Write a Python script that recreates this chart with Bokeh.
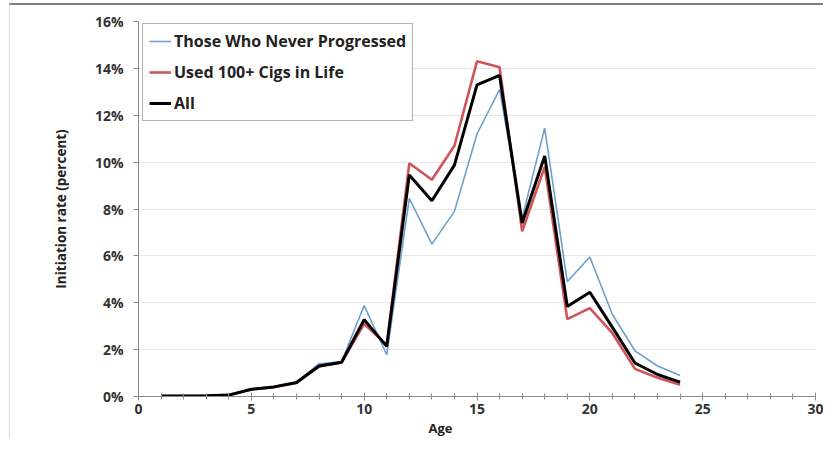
from bokeh.plotting import figure
from bokeh.models import Range1d, PrintfTickFormatter, Legend, LegendItem, Title, FixedTicker
from bokeh.embed import file_html
from bokeh.resources import INLINE

ages = list(range(1, 25))
never_progressed = [0.02, 0.02, 0.03, 0.06, 0.32, 0.43, 0.6, 1.4, 1.48, 3.88, 1.78, 8.45, 6.5, 7.9, 11.2, 13.1, 7.6, 11.45, 4.9, 5.95, 3.5, 1.95, 1.3, 0.9]
used_100 = [0.02, 0.02, 0.03, 0.06, 0.3, 0.4, 0.58, 1.28, 1.45, 3.1, 2.2, 9.95, 9.25, 10.7, 14.3, 14.05, 7.05, 9.8, 3.3, 3.77, 2.7, 1.18, 0.8, 0.5]
all_users = [0.02, 0.02, 0.03, 0.06, 0.31, 0.41, 0.6, 1.3, 1.46, 3.28, 2.14, 9.45, 8.35, 9.87, 13.3, 13.7, 7.4, 10.26, 3.84, 4.45, 2.95, 1.43, 0.94, 0.61]
series_names = ["Those Who Never Progressed", "Used 100+ Cigs in Life", "All"]
y_ticks = [0, 2, 4, 6, 8, 10, 12, 14, 16]
x_ticks = [0, 5, 10, 15, 20, 25, 30]

FONT = "Open Sans"

p = figure(width=813, height=433, output_backend="svg", toolbar_location=None,
           x_range=Range1d(0, 30), y_range=Range1d(0, 16),
           min_border_left=128, min_border_right=9, min_border_top=16, min_border_bottom=44,
           styles={"border-top": "2px solid #808080", "border-left": "1px solid #dcdcdc",
                   "box-sizing": "content-box",
                   "margin-top": "3px", "margin-left": "9px"})
p.outline_line_color = None
p.background_fill_color = "white"
p.border_fill_color = "white"

p.xgrid.grid_line_color = None
p.ygrid.grid_line_color = "#e6e6e6"
p.ygrid.ticker = FixedTicker(ticks=y_ticks)

p.yaxis.ticker = FixedTicker(ticks=y_ticks)
p.yaxis.formatter = PrintfTickFormatter(format="%d%%")
p.xaxis.ticker = FixedTicker(ticks=x_ticks, minor_ticks=list(range(0, 31)))

for ax in (p.xaxis[0], p.yaxis[0]):
    ax.axis_line_color = "#8a8a8a"
    ax.major_tick_line_color = "#8a8a8a"
    ax.minor_tick_line_color = "#8a8a8a"
    ax.major_label_text_font = FONT
    ax.major_label_text_font_style = "bold"
    ax.major_label_text_font_size = "14px"
    ax.major_label_text_color = "#333333"
    ax.axis_label_text_font = FONT
    ax.axis_label_text_font_style = "bold"
    ax.axis_label_text_font_size = "13.5px"
    ax.axis_label_text_color = "#222222"

p.xaxis.major_tick_in = 4
p.xaxis.major_tick_out = 4
p.xaxis.minor_tick_in = 3
p.xaxis.minor_tick_out = 3
p.xaxis.major_label_standoff = 3

p.yaxis.major_tick_in = 0
p.yaxis.major_tick_out = 5
p.yaxis.minor_tick_line_color = None
p.yaxis.major_label_standoff = 10
p.yaxis.axis_label = "Initiation rate (percent)"
p.yaxis.axis_label_standoff = 22

r1 = p.line(ages, never_progressed, line_color="#6f9fd0", line_width=1.6)
r2 = p.line(ages, used_100, line_color="#d0545a", line_width=2.6)
r3 = p.line(ages, all_users, line_color="#000000", line_width=3)

age_title = Title(text="Age", align="left", offset=290, text_font=FONT,
                  text_font_style="bold", text_font_size="13px", text_color="#222222",
                  standoff=0)
p.add_layout(age_title, "below")

legend = Legend(items=[LegendItem(label=series_names[0], renderers=[r1]),
                       LegendItem(label=series_names[1], renderers=[r2]),
                       LegendItem(label=series_names[2], renderers=[r3])],
                location=(4, 275))
legend.label_text_font = FONT
legend.label_text_font_style = "bold"
legend.label_text_font_size = "16px"
legend.label_text_color = "#222222"
legend.glyph_width = 22
legend.glyph_height = 20
legend.label_height = 20
legend.label_standoff = 3
legend.spacing = 9
legend.padding = 6
legend.margin = 0
legend.border_line_color = "#666666"
legend.border_line_width = 1
legend.background_fill_alpha = 1
p.add_layout(legend, "center")

open("out.html", "w").write(file_html(p, INLINE))
